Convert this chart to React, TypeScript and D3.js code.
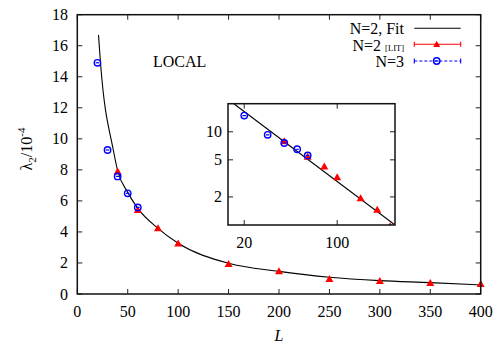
import React from "react";
import * as d3 from "d3";

// ---- data ----
const n3L = [20, 30, 40, 50, 60];
const n3Y = [14.9, 9.28, 7.58, 6.49, 5.58];
const n2L = [40, 60, 80, 100, 150, 200, 250, 300, 350, 400];
const n2Y = [7.9, 5.41, 4.23, 3.26, 1.94, 1.46, 0.97, 0.84, 0.71, 0.64];
const fitL = [21, 23, 35.7, 40, 50, 60, 80, 100, 150, 200, 250, 300, 350, 400];
const fitY = [16.7, 14.9, 9.28, 7.95, 6.55, 5.52, 4.23, 3.27, 1.98, 1.46, 1.08, 0.86, 0.73, 0.58];
const insetFitL = [16.7, 272];
const insetFitY = [20, 1];
const xTicks = [0, 50, 100, 150, 200, 250, 300, 350, 400];
const yTicks = [0, 2, 4, 6, 8, 10, 12, 14, 16, 18];
const insetXTicks = [20, 100];
const insetYTicks = [2, 5, 10];

const W = 497, H = 343;
const FONT = "'Liberation Serif', 'Times New Roman', serif";
const RED = "#ff0000", BLUE = "#0000ff";

function Tri({ x, y, s = 4 }: { x: number; y: number; s?: number }) {
  const p = `M${x},${y - s} L${x + s},${y + s * 0.75} L${x - s},${y + s * 0.75} Z`;
  return <path d={p} fill={RED} />;
}
function Circ({ x, y }: { x: number; y: number }) {
  return (
    <g>
      <circle cx={x} cy={y} r={3.2} fill="none" stroke={BLUE} strokeWidth={1.4} />
      <line x1={x - 1.8} x2={x + 1.8} y1={y} y2={y} stroke={BLUE} strokeWidth={1.2} />
    </g>
  );
}

export default function App() {
  const x = d3.scaleLinear().domain([0, 400]).range([77.3, 480.7]);
  const y = d3.scaleLinear().domain([0, 18]).range([294, 14.7]);
  const ix = d3.scaleLog().domain([15.1, 272]).range([228, 395]);
  const iy = d3.scaleLog().domain([1, 20]).range([225, 103.7]);

  const fitPts: [number, number][] = fitL.map((l, i) => [l, fitY[i]]);
  const fitLine = d3.line<[number, number]>().x(d => x(d[0])).y(d => y(d[1])).curve(d3.curveMonotoneX);
  const insetLine = d3.line<[number, number]>().x(d => ix(d[0])).y(d => iy(d[1]));
  const insetPts: [number, number][] = insetFitL.map((l, i) => [l, insetFitY[i]]);

  const [x0, x1] = x.range();
  const [y0, y1] = y.range();
  const [ix0, ix1] = ix.range();
  const [iy0, iy1] = iy.range();
  const tk = 5;

  return (
    <svg width={W} height={H} style={{ position: "absolute", left: 0, top: 0 }} fontFamily={FONT}>
      <defs>
        <clipPath id="insetClip">
          <rect x={ix0} y={iy1} width={ix1 - ix0} height={iy0 - iy1} />
        </clipPath>
      </defs>
      <rect width={W} height={H} fill="#fff" />

      {/* main ticks */}
      {xTicks.map(t => (
        <g key={"x" + t}>
          <line x1={x(t)} x2={x(t)} y1={y0} y2={y0 - tk} stroke="#222" />
          <line x1={x(t)} x2={x(t)} y1={y1} y2={y1 + tk} stroke="#222" />
          <text x={x(t)} y={317} textAnchor="middle" fontSize={16}>{t}</text>
        </g>
      ))}
      {yTicks.map(t => (
        <g key={"y" + t}>
          <line x1={x0} x2={x0 + tk} y1={y(t)} y2={y(t)} stroke="#222" />
          <line x1={x1} x2={x1 - tk} y1={y(t)} y2={y(t)} stroke="#222" />
          <text x={68} y={y(t) + 5.5} textAnchor="end" fontSize={16}>{t}</text>
        </g>
      ))}

      {/* fit curve */}
      <path d={fitLine(fitPts) || ""} fill="none" stroke="#000" strokeWidth={1.1} />

      {/* data */}
      {n2L.map((l, i) => <Tri key={"r" + i} x={x(l)} y={y(n2Y[i])} />)}
      {n3L.map((l, i) => <Circ key={"b" + i} x={x(l)} y={y(n3Y[i])} />)}

      {/* main frame */}
      <rect x={x0} y={y1} width={x1 - x0} height={y0 - y1} fill="none" stroke="#111" strokeWidth={1.5} />

      {/* LOCAL */}
      <text x={153} y={67} fontSize={16}>LOCAL</text>

      {/* legend */}
      <text x={404} y={34} textAnchor="end" fontSize={16}>N=2, Fit</text>
      <line x1={414.3} x2={460.7} y1={28.3} y2={28.3} stroke="#000" strokeWidth={1.1} />

      <text x={404} y={50.5} textAnchor="end" fontSize={16}>
        N=2 <tspan fontSize={8.5}>[LIT]</tspan>
      </text>
      <line x1={414.3} x2={460.7} y1={44.3} y2={44.3} stroke={RED} strokeWidth={1.1} />
      <line x1={414.3} x2={414.3} y1={41.8} y2={46.8} stroke={RED} strokeWidth={1.1} />
      <line x1={460.7} x2={460.7} y1={41.8} y2={46.8} stroke={RED} strokeWidth={1.1} />
      <Tri x={436.7} y={44.3} s={3.5} />

      <text x={404} y={66.7} textAnchor="end" fontSize={16}>N=3</text>
      <line x1={414.3} x2={460.7} y1={61} y2={61} stroke={BLUE} strokeWidth={1.1} strokeDasharray="3,2" />
      <line x1={414.3} x2={414.3} y1={58.5} y2={63.5} stroke={BLUE} strokeWidth={1.1} />
      <line x1={460.7} x2={460.7} y1={58.5} y2={63.5} stroke={BLUE} strokeWidth={1.1} />
      <Circ x={436.7} y={61} />

      {/* inset */}
      <rect x={ix0} y={iy1} width={ix1 - ix0} height={iy0 - iy1} fill="#fff" />
      {insetXTicks.map(t => (
        <g key={"ix" + t}>
          <line x1={ix(t)} x2={ix(t)} y1={iy0} y2={iy0 - tk} stroke="#222" />
          <line x1={ix(t)} x2={ix(t)} y1={iy1} y2={iy1 + tk} stroke="#222" />
          <text x={ix(t)} y={248} textAnchor="middle" fontSize={16}>{t}</text>
        </g>
      ))}
      {insetYTicks.map(t => (
        <g key={"iy" + t}>
          <line x1={ix0} x2={ix0 + tk} y1={iy(t)} y2={iy(t)} stroke="#222" />
          <line x1={ix1} x2={ix1 - tk} y1={iy(t)} y2={iy(t)} stroke="#222" />
          <text x={222} y={iy(t) + 5.5} textAnchor="end" fontSize={16}>{t}</text>
        </g>
      ))}
      <g clipPath="url(#insetClip)">
        <path d={insetLine(insetPts) || ""} fill="none" stroke="#000" strokeWidth={1.1} />
        {n2L.filter(l => l <= 272).map((l, i) => <Tri key={"ir" + i} x={ix(l)} y={iy(n2Y[i])} />)}
        {n3L.map((l, i) => <Circ key={"ib" + i} x={ix(l)} y={iy(n3Y[i])} />)}
      </g>
      <rect x={ix0} y={iy1} width={ix1 - ix0} height={iy0 - iy1} fill="none" stroke="#111" strokeWidth={1.5} />

      {/* axis labels */}
      <text x={279} y={341} textAnchor="middle" fontSize={16} fontStyle="italic">L</text>
      <text transform="translate(32,149) rotate(-90)" textAnchor="middle" fontSize={16}>
        λ<tspan fontSize={11} dy={4}>2</tspan><tspan dy={-4}>/10</tspan><tspan fontSize={11} dy={-7}>-4</tspan>
      </text>
    </svg>
  );
}
